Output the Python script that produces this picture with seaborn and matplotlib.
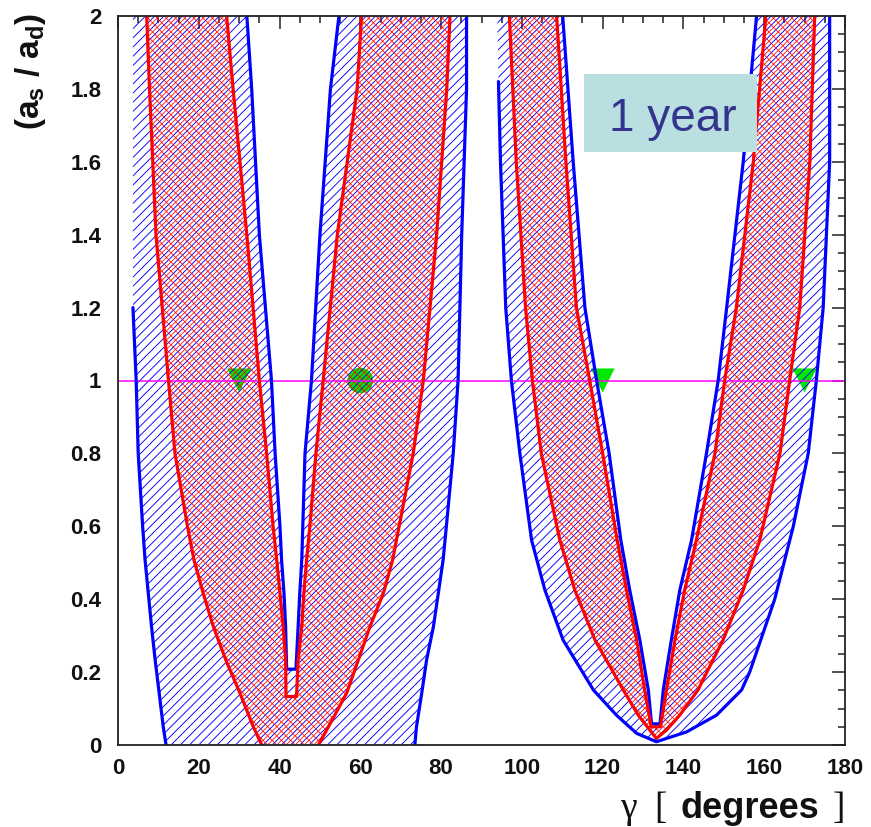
import matplotlib
matplotlib.use("Agg")
import matplotlib.pyplot as plt
import seaborn as sns
import pandas as pd
import numpy as np
from matplotlib.patches import Rectangle, Polygon
from matplotlib.collections import LineCollection

# ---------------- data ----------------
# Left structure: blue (outer) band boundaries, y ascending
L_bol_y = [0.0, 0.05, 0.142, 0.233, 0.325, 0.416, 0.508, 0.6, 0.8, 1.0, 1.2, 2.0]
L_bol_x = [11.9, 11.2, 10.2, 9.2, 8.3, 7.5, 6.7, 6.1, 5.0, 4.5, 3.7, 3.7]
L_bor_y = [0.0, 0.05, 0.142, 0.233, 0.325, 0.416, 0.508, 0.6, 0.8, 1.0, 1.4, 1.8, 2.0]
L_bor_x = [73.5, 73.9, 75.2, 76.4, 78.1, 79.3, 80.5, 81.3, 83.0, 84.2, 85.1, 86.3, 86.3]
L_bil_y = [0.208, 0.325, 0.416, 0.508, 0.6, 0.8, 1.0, 1.4, 1.8, 2.0]
L_bil_x = [41.75, 41.5, 41.1, 40.5, 40.1, 38.9, 38.0, 35.0, 33.1, 31.9]
L_bir_y = [0.208, 0.325, 0.416, 0.508, 0.8, 1.0, 1.4, 1.8, 2.0]
L_bir_x = [44.06, 44.6, 45.0, 45.5, 46.3, 47.9, 50.0, 52.6, 54.7]
# Left structure: red (inner) band boundaries
L_rol_y = [0.0, 0.05, 0.142, 0.233, 0.325, 0.416, 0.508, 0.6, 0.8, 1.0, 1.4, 1.8, 2.0]
L_rol_x = [35.6, 33.5, 30.2, 26.7, 23.6, 21.1, 18.8, 17.2, 14.1, 12.5, 9.4, 7.8, 7.1]
L_ror_y = [0.0, 0.05, 0.142, 0.233, 0.325, 0.416, 0.508, 0.8, 1.0, 1.4, 1.8, 2.0]
L_ror_x = [49.6, 52.1, 56.6, 59.5, 62.4, 65.7, 68.0, 73.1, 75.6, 78.9, 81.4, 82.2]
L_ril_y = [0.133, 0.233, 0.325, 0.416, 0.508, 0.6, 0.8, 1.0, 1.4, 1.8, 2.0]
L_ril_x = [41.6, 41.5, 40.9, 40.1, 39.3, 38.4, 36.8, 35.0, 31.9, 28.5, 26.9]
L_rir_y = [0.133, 0.233, 0.325, 0.416, 0.508, 0.6, 0.8, 1.0, 1.4, 1.8, 2.0]
L_rir_x = [44.2, 44.6, 45.5, 46.0, 46.7, 47.5, 49.0, 50.8, 54.3, 59.2, 60.3]

# Right structure: blue band
R_bol_y = [0.009, 0.032, 0.082, 0.151, 0.288, 0.425, 0.562, 0.8, 1.0, 1.2, 1.6, 1.82, 2.0]
R_bol_x = [133.3, 128.4, 123.4, 117.7, 110.2, 105.7, 102.4, 99.5, 97.4, 96.0, 94.7, 94.2, 93.9]
R_bor_y = [0.009, 0.036, 0.082, 0.151, 0.2, 0.4, 0.6, 0.8, 1.0, 1.2, 1.6, 2.0]
R_bor_x = [133.3, 140.8, 148.2, 154.4, 156.4, 162.6, 167.2, 170.9, 172.9, 174.6, 176.2, 176.2]
R_bil_y = [0.058, 0.151, 0.288, 0.425, 0.562, 0.8, 1.0, 1.2, 1.6, 2.0]
R_bil_x = [132.1, 131.3, 129.2, 126.7, 124.5, 121.6, 118.5, 115.6, 112.7, 110.1]
R_bir_y = [0.058, 0.151, 0.288, 0.425, 0.562, 0.8, 1.0, 1.2, 1.6, 2.0]
R_bir_x = [134.2, 135.0, 137.0, 139.1, 142.0, 145.7, 148.6, 150.7, 154.8, 158.1]
# Right structure: red band
R_rol_y = [0.018, 0.082, 0.151, 0.288, 0.425, 0.562, 0.8, 1.0, 1.2, 1.6, 2.0]
R_rol_x = [133.3, 128.8, 125.1, 118.1, 113.1, 109.4, 104.8, 102.6, 100.9, 98.6, 96.9]
R_ror_y = [0.018, 0.041, 0.082, 0.151, 0.288, 0.425, 0.562, 0.8, 1.0, 1.2, 1.6, 2.0]
R_ror_x = [133.3, 135.8, 139.1, 143.6, 149.8, 154.8, 158.9, 163.9, 166.3, 168.8, 171.3, 172.5]
R_ril_y = [0.05, 0.151, 0.288, 0.425, 0.562, 0.8, 1.0, 1.2, 1.6, 2.0]
R_ril_x = [132.0, 130.4, 128.4, 125.9, 123.6, 120.0, 116.8, 113.5, 110.9, 108.6]
R_rir_y = [0.05, 0.151, 0.288, 0.425, 0.562, 0.8, 1.0, 1.2, 1.6, 2.0]
R_rir_x = [134.3, 135.8, 137.9, 140.3, 143.2, 147.8, 150.2, 153.1, 157.3, 160.4]

# solid outline only drawn below these heights on the outer-left edges
L_bol_line_top = 1.2
R_bol_line_top = 1.82

# markers and reference line
TRI_X = [30, 120, 170]
TRI_Y = [1.0, 1.0, 1.0]
CIRC_X = [60]
CIRC_Y = [1.0]
REF_Y = 1.0

XTICKS = [0, 20, 40, 60, 80, 100, 120, 140, 160, 180]
YTICKS = [0, 0.2, 0.4, 0.6, 0.8, 1.0, 1.2, 1.4, 1.6, 1.8, 2.0]
YTICK_LABELS = ["0", "0.2", "0.4", "0.6", "0.8", "1", "1.2", "1.4", "1.6", "1.8", "2"]
BOX_TEXT = "1 year"

# ---------------- style ----------------
sns.set_theme(style="white")
plt.rcParams["font.family"] = ["Liberation Sans", "DejaVu Sans"]
plt.rcParams["mathtext.fontset"] = "custom"
plt.rcParams["mathtext.rm"] = "Liberation Sans:bold"
plt.rcParams["mathtext.it"] = "Liberation Sans:bold"
plt.rcParams["mathtext.bf"] = "Liberation Sans:bold"

BLUE = "#0000ff"
RED = "#ff0000"
GREEN = "#00e800"
MAGENTA = "#ff00ff"

FIG_W, FIG_H = 871, 827
AX_L, AX_B, AX_W, AX_H = 118, 82, 727, 729
HATCH_SP = 9.2

fig = plt.figure(figsize=(FIG_W / 100, FIG_H / 100), dpi=100)
fig.patch.set_facecolor("white")
ax = fig.add_axes([AX_L / FIG_W, AX_B / FIG_H, AX_W / FIG_W, AX_H / FIG_H])
ax.set_facecolor("white")


def band(olx, oly, orx, ory, ilx, ily, irx, iry):
    xs = olx[::-1] + orx + irx[::-1] + ilx
    ys = oly[::-1] + ory + iry[::-1] + ily
    return xs, ys


def hatch(xs, ys, color, spacing_px, offset_px, directions, z, lw):
    """Diagonal hatch lines (45 deg on screen) clipped to a data polygon."""
    clip = Polygon(np.column_stack([xs, ys]), closed=True, transform=ax.transData,
                   facecolor="none", edgecolor="none")
    ax.add_patch(clip)
    segs = []
    for d in directions:
        cs = np.arange(-AX_H - spacing_px + offset_px, AX_W + AX_H + spacing_px, spacing_px)
        for c in cs:
            if d == "/":
                p0, p1 = (c, 0.0), (c + AX_H, AX_H)
            else:
                p0, p1 = (c, 0.0), (c - AX_H, AX_H)
            segs.append([(p0[0] / AX_W, p0[1] / AX_H), (p1[0] / AX_W, p1[1] / AX_H)])
    lc = LineCollection(segs, colors=color, linewidths=lw, transform=ax.transAxes,
                        zorder=z)
    ax.add_collection(lc)
    lc.set_clip_path(clip)


def line(x, y, color, z=6):
    df = pd.DataFrame({"x": x, "y": y})
    sns.lineplot(data=df, x="x", y="y", sort=False, estimator=None, color=color,
                 linewidth=2.3, ax=ax, zorder=z)


# markers (under hatch)
sns.scatterplot(x=TRI_X, y=TRI_Y, marker="v", s=300, color=GREEN, edgecolor="none",
                ax=ax, zorder=1)
sns.scatterplot(x=CIRC_X, y=CIRC_Y, marker="o", s=340, color=GREEN, edgecolor="none",
                ax=ax, zorder=1)

# blue hatched bands
for g in [(L_bol_x, L_bol_y, L_bor_x, L_bor_y, L_bil_x, L_bil_y, L_bir_x, L_bir_y),
          (R_bol_x, R_bol_y, R_bor_x, R_bor_y, R_bil_x, R_bil_y, R_bir_x, R_bir_y)]:
    xs, ys = band(*g)
    hatch(xs, ys, BLUE, HATCH_SP, 0.0, ["/"], 2, 0.65)

# red cross-hatched bands
for g in [(L_rol_x, L_rol_y, L_ror_x, L_ror_y, L_ril_x, L_ril_y, L_rir_x, L_rir_y),
          (R_rol_x, R_rol_y, R_ror_x, R_ror_y, R_ril_x, R_ril_y, R_rir_x, R_rir_y)]:
    xs, ys = band(*g)
    hatch(xs, ys, RED, HATCH_SP, HATCH_SP / 2, ["/", "\\"], 3, 0.55)

# reference line
ax.axhline(REF_Y, color=MAGENTA, linewidth=1.1, zorder=4)

# outlines - left structure
ix = [i for i, v in enumerate(L_bol_y) if v <= L_bol_line_top]
line([L_bol_x[i] for i in ix], [L_bol_y[i] for i in ix], BLUE)
line(L_bor_x, L_bor_y, BLUE)
line(L_bil_x[::-1] + L_bir_x, L_bil_y[::-1] + L_bir_y, BLUE)
line(L_rol_x, L_rol_y, RED, 7)
line(L_ror_x, L_ror_y, RED, 7)
line(L_ril_x[::-1] + L_rir_x, L_ril_y[::-1] + L_rir_y, RED, 7)

# outlines - right structure
ix = [i for i, v in enumerate(R_bol_y) if v <= R_bol_line_top]
rb_x = [R_bol_x[i] for i in ix]
rb_y = [R_bol_y[i] for i in ix]
line(rb_x[::-1] + R_bor_x, rb_y[::-1] + R_bor_y, BLUE)
line(R_bil_x[::-1] + R_bir_x, R_bil_y[::-1] + R_bir_y, BLUE)
line(R_rol_x[::-1] + R_ror_x, R_rol_y[::-1] + R_ror_y, RED, 7)
line(R_ril_x[::-1] + R_rir_x, R_ril_y[::-1] + R_rir_y, RED, 7)

# axes
ax.set_xlim(0, 180)
ax.set_ylim(0, 2)
ax.set_xticks(XTICKS)
ax.set_xticklabels([str(v) for v in XTICKS])
ax.set_yticks(YTICKS)
ax.set_yticklabels(YTICK_LABELS)
ax.set_xticks([v for v in range(0, 181, 5)], minor=True)
ax.set_yticks([i * 0.05 for i in range(41)], minor=True)
ax.tick_params(which="both", direction="in", top=True, right=True, color="#222222",
               width=1.1, labelsize=16)
ax.tick_params(which="major", length=9.5)
ax.tick_params(which="minor", length=5)
ax.tick_params(axis="x", pad=9)
ax.tick_params(axis="y", pad=12)
for lab in ax.get_xticklabels() + ax.get_yticklabels():
    lab.set_fontweight("bold")
    lab.set_color("#111111")
for s in ax.spines.values():
    s.set_linewidth(1.3)
    s.set_color("#222222")
    s.set_zorder(10)
ax.set_xlabel("")
ax.set_ylabel("")

# "1 year" box
ax.add_patch(Rectangle((0.641, 0.8134), 0.238, 0.107, transform=ax.transAxes,
                       facecolor="#b9dfe1", edgecolor="none", zorder=8))
ax.text(0.7627, 0.8427, BOX_TEXT, transform=ax.transAxes, ha="center", va="baseline",
        fontsize=33, color="#34348c", zorder=9)

# axis titles
fig.text(30 / FIG_W, 1 - 13 / FIG_H, r"(a$_{\rm s}$ / a$_{\rm d}$)", rotation=90,
         ha="center", va="top", fontsize=24, fontweight="bold", color="#111111")
fig.text(628 / FIG_W, 1 - 818 / FIG_H, "γ", family=["Liberation Serif", "DejaVu Serif"],
         fontsize=27, ha="center", va="baseline", color="#111111")
fig.text(660 / FIG_W, 1 - 818 / FIG_H, "[", family=["Liberation Serif", "DejaVu Serif"],
         fontsize=27, ha="center", va="baseline", color="#111111")
fig.text(680 / FIG_W, 1 - 818 / FIG_H, "degrees", fontsize=26, fontweight="bold",
         ha="left", va="baseline", color="#111111")
fig.text(839 / FIG_W, 1 - 818 / FIG_H, "]", family=["Liberation Serif", "DejaVu Serif"],
         fontsize=27, ha="center", va="baseline", color="#111111")

fig.savefig("out.png", dpi=100)
